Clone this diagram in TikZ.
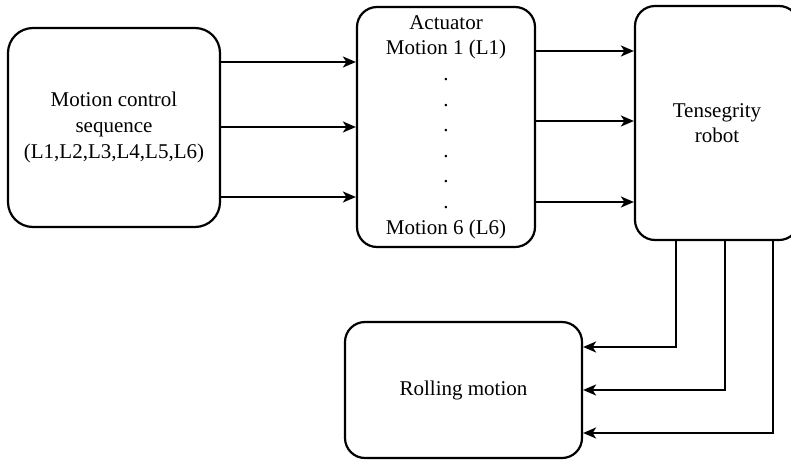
\documentclass[tikz,border=0pt]{standalone}
\usepackage{fontspec}
\setmainfont{Liberation Serif}
\usetikzlibrary{arrows.meta}
\tikzset{
  block/.style={draw, line width=2.2pt, rounded corners=20pt, align=center,
    inner sep=0pt, font=\fontsize{21}{25.6}\selectfont},
  arr/.style={line width=2pt, -{Stealth[length=13pt,width=11pt,inset=3.5pt]}}
}
\begin{document}
\begin{tikzpicture}[x=1pt,y=-1pt]
   \useasboundingbox (0,0) rectangle (791,461);
   % blocks
   \node[block, minimum width=212pt, minimum height=199pt, rounded corners=25pt] (seq) at (114,127.5)
      {Motion control\\sequence\\(L1,L2,L3,L4,L5,L6)};
   \node[block, minimum width=178pt, minimum height=240pt] (act) at (446,127)
      {Actuator\\Motion 1 (L1)\\.\\.\\.\\.\\.\\.\\Motion 6 (L6)};
   \node[block, minimum width=164pt, minimum height=234pt] (robot) at (717,123)
      {Tensegrity\\robot};
   \node[block, minimum width=237pt, minimum height=136pt] (roll) at (463.5,390)
      {Rolling motion};
   % sequence to actuator
   \draw[arr] (seq.east |- 0,62)  -- (act.west |- 0,62);
   \draw[arr] (seq.east |- 0,127) -- (act.west |- 0,127);
   \draw[arr] (seq.east |- 0,197) -- (act.west |- 0,197);
   % actuator to robot
   \draw[arr] (act.east |- 0,51)  -- (robot.west |- 0,51);
   \draw[arr] (act.east |- 0,121) -- (robot.west |- 0,121);
   \draw[arr] (act.east |- 0,202) -- (robot.west |- 0,202);
   % robot to rolling motion
   \draw[arr] (robot.south -| 676,0) |- (roll.east |- 0,347);
   \draw[arr] (robot.south -| 725,0) |- (roll.east |- 0,390);
   \draw[arr] (robot.south -| 773,0) |- (roll.east |- 0,433);
\end{tikzpicture}
\end{document}
